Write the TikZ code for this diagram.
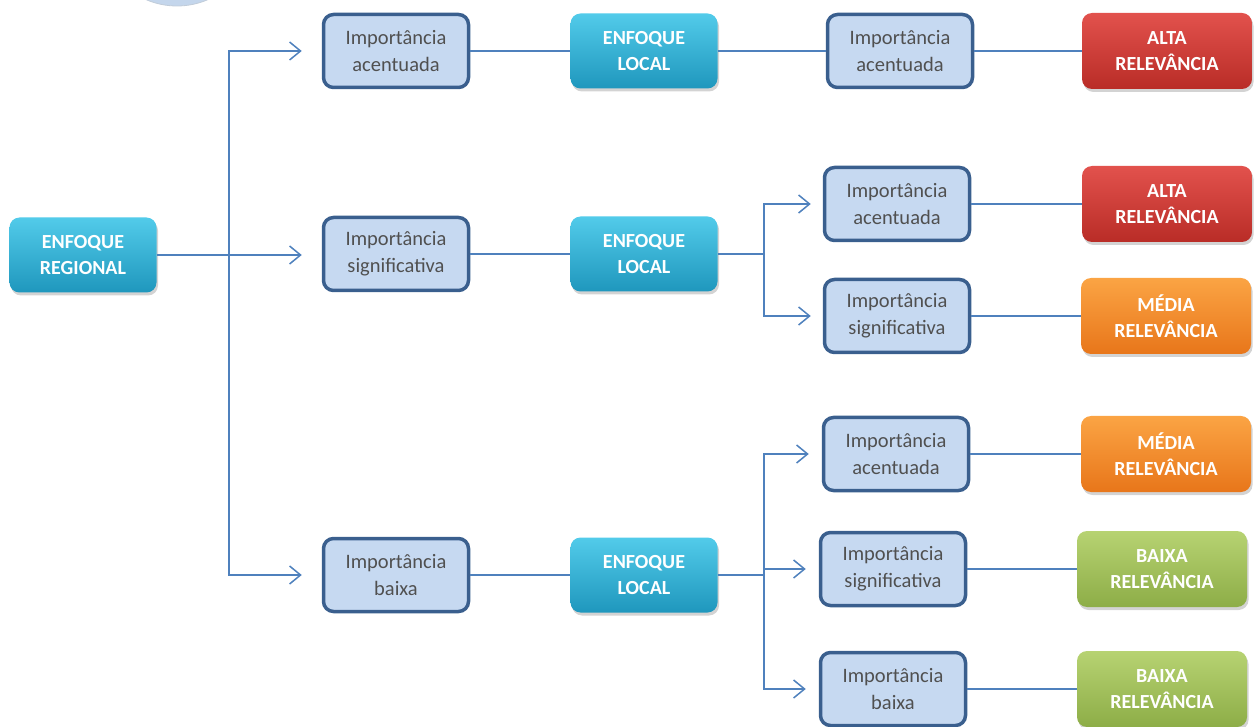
\documentclass[tikz,border=0pt]{standalone}
\usepackage{fontspec}
\setmainfont{Carlito}
\usetikzlibrary{arrows.meta,shadows}
\definecolor{impfill}{HTML}{C6D9F1}
\definecolor{impborder}{HTML}{3A5F8E}
\definecolor{imptext}{HTML}{505050}
\definecolor{linec}{HTML}{4F81BD}
\definecolor{enftop}{HTML}{52CBEA}
\definecolor{enfbot}{HTML}{1F97BD}
\definecolor{redtop}{HTML}{E2524D}
\definecolor{redbot}{HTML}{B92C27}
\definecolor{orgtop}{HTML}{FBA444}
\definecolor{orgbot}{HTML}{E8761A}
\definecolor{grntop}{HTML}{B7D372}
\definecolor{grnbot}{HTML}{8DAD47}
\definecolor{circfill}{HTML}{C4D6EC}
\begin{document}
\begin{tikzpicture}[x=1pt,y=-1pt,
  imp/.style={draw=impborder, line width=3.5pt, rounded corners=10pt, fill=impfill,
    minimum width=145pt, minimum height=73pt, inner sep=0pt, text=imptext, align=center,
    font=\fontsize{20.5}{27}\selectfont},
  boxbase/.style={rounded corners=10pt, inner sep=0pt, text=white, align=center,
    font=\bfseries\fontsize{20}{26}\selectfont,
    drop shadow={opacity=0.35, shadow xshift=1.5pt, shadow yshift=-3pt}},
  enf/.style={boxbase, top color=enftop, bottom color=enfbot, minimum width=147pt, minimum height=75pt},
  rel/.style={boxbase, minimum width=170pt, minimum height=76pt},
  alta/.style={rel, top color=redtop, bottom color=redbot},
  media/.style={rel, top color=orgtop, bottom color=orgbot},
  baixa/.style={rel, top color=grntop, bottom color=grnbot},
  conn/.style={draw=linec, line width=1.5pt},
  arr/.style={conn, -{Straight Barb[length=11pt,width=18pt,line width=1.5pt]}}
]
\clip (0,0) rectangle (1254,727);
% partial circle at top edge
\fill[circfill, draw=circfill!85!black!70, line width=0.8pt] (177,-72) circle (78pt);

% nodes
\node[enf] (reg) at (83,255) {ENFOQUE\\REGIONAL};

\node[imp] (i1) at (396,51) {Importância\\acentuada};
\node[imp] (i2) at (396,254) {Importância\\significativa};
\node[imp] (i3) at (396,575) {Importância\\baixa};

\node[enf] (l1) at (644,51) {ENFOQUE\\LOCAL};
\node[enf] (l2) at (644,254) {ENFOQUE\\LOCAL};
\node[enf] (l3) at (644,575) {ENFOQUE\\LOCAL};

\node[imp] (a1) at (900,51) {Importância\\acentuada};
\node[imp] (a2) at (897,204) {Importância\\acentuada};
\node[imp] (a3) at (897,316) {Importância\\significativa};
\node[imp] (a4) at (896,454) {Importância\\acentuada};
\node[imp] (a5) at (893,569) {Importância\\significativa};
\node[imp] (a6) at (893,689) {Importância\\baixa};

\node[alta] (r1) at (1167,51) {ALTA\\RELEVÂNCIA};
\node[alta] (r2) at (1167,204) {ALTA\\RELEVÂNCIA};
\node[media] (r3) at (1166,316) {MÉDIA\\RELEVÂNCIA};
\node[media] (r4) at (1166,454) {MÉDIA\\RELEVÂNCIA};
\node[baixa] (r5) at (1162,569) {BAIXA\\RELEVÂNCIA};
\node[baixa] (r6) at (1162,689) {BAIXA\\RELEVÂNCIA};

% bus coordinates
\coordinate (busA) at (229,255);
\coordinate (busB) at (764,254);
\coordinate (busC) at (764,575);

% connectors level 1
\draw[conn] (reg.east) -- (busA);
\draw[arr, shorten >=20pt] (busA) |- (i1.west);
\draw[arr, shorten >=20pt] (busA) -- (busA -| i2.west);
\draw[arr, shorten >=20pt] (busA) |- (i3.west);

% importance -> local
\draw[conn] (i1) -- (l1);
\draw[conn] (i2) -- (l2);
\draw[conn] (i3) -- (l3);

% local -> importance
\draw[conn] (l1) -- (a1);
\draw[conn] (l2.east) -- (busB);
\draw[arr, shorten >=12pt] (busB) |- (a2.west);
\draw[arr, shorten >=12pt] (busB) |- (a3.west);
\draw[conn] (l3.east) -- (busC);
\draw[arr, shorten >=13pt] (busC) |- (a4.west);
\draw[arr, shorten >=13pt] (busC) |- (a5.west);
\draw[arr, shorten >=13pt] (busC) |- (a6.west);

% importance -> relevance
\draw[conn] (a1) -- (r1);
\draw[conn] (a2) -- (r2);
\draw[conn] (a3) -- (r3);
\draw[conn] (a4) -- (r4);
\draw[conn] (a5) -- (r5);
\draw[conn] (a6) -- (r6);
\end{tikzpicture}
\end{document}
